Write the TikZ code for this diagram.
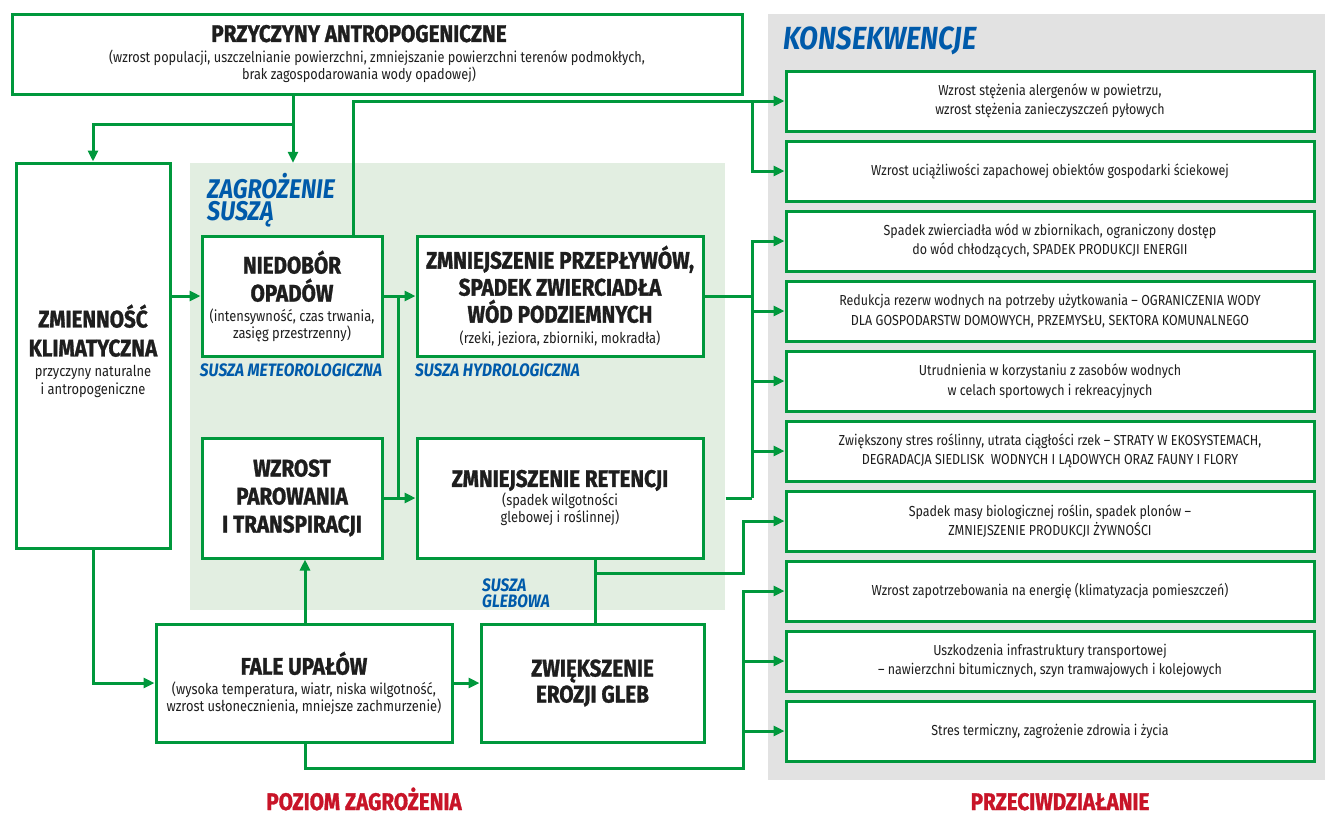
\documentclass[tikz,border=0pt]{standalone}
\usepackage{fontspec}
\setmainfont[FakeStretch=0.86,BoldFeatures={FakeBold=1.2}]{Fira Sans}
\usetikzlibrary{arrows.meta,calc}
\definecolor{grn}{RGB}{0,152,60}
\definecolor{lgrn}{RGB}{226,238,225}
\definecolor{gry}{RGB}{226,226,226}
\definecolor{blu}{RGB}{0,90,170}
\definecolor{rd}{RGB}{200,20,40}
\definecolor{txt}{RGB}{30,30,30}
\lineskiplimit=-50pt
\newcommand\subf{\fontsize{15}{17}\selectfont\lineskiplimit=-50pt}
\newcommand\consf{\fontsize{14.5}{17}\selectfont\lineskiplimit=-50pt}
\newcommand\ttlf{\fontsize{24}{27}\selectfont\bfseries}
\newcommand\padr{\hspace*{36pt}}
\begin{document}
\begin{tikzpicture}[x=1pt,y=-1pt,
  box/.style={draw=grn,line width=3pt,fill=white,inner sep=0pt,align=center,text=txt,font=\subf},
  cbox/.style={box,font=\consf,minimum width=528pt,minimum height=60pt},
  conn/.style={draw=grn,line width=3pt},
  arr/.style={conn,-{Triangle[length=11pt,width=10pt]}},
  lbl/.style={text=blu,inner sep=0pt,align=left},
  foot/.style={text=rd,inner sep=0pt,anchor=base,font=\fontsize{24}{25}\selectfont\bfseries},
]
\useasboundingbox (0,0) rectangle (1325,815);
% background areas
\node[fill=gry,inner sep=0pt,minimum width=557pt,minimum height=766pt] (konsarea) at (1046.5,397) {};
\node[fill=lgrn,inner sep=0pt,minimum width=535pt,minimum height=447pt] (drought) at (457.5,386.5) {};
% coordinates for bends
\coordinate (xA) at (293,0);
\coordinate (yA) at (0,124);
\coordinate (xN) at (353,0);
\coordinate (xV) at (398,0);
\coordinate (xB) at (752,0);
\coordinate (xR) at (595,0);
\coordinate (yR) at (0,573);
\coordinate (xC) at (743,0);
\coordinate (xF) at (305,0);
\coordinate (yF) at (0,768);
% main nodes
\node[box,minimum width=730pt,minimum height=80pt] (top) at (377,54)
  {{\fontsize{24}{24}\selectfont\bfseries PRZYCZYNY ANTROPOGENICZNE}\padr\\[4pt]
   {\fontsize{14.8}{17}\selectfont (wzrost populacji, uszczelnianie powierzchni, zmniejszanie powierzchni terenów podmokłych,}\padr\\
   {\fontsize{14.8}{17}\selectfont brak zagospodarowania wody opadowej)}\padr};
\node[box,minimum width=154pt,minimum height=385pt] (klim) at (93,355.5)
  {{\ttlf ZMIENNOŚĆ}\\[12pt]{\ttlf KLIMATYCZNA}\\[3pt]przyczyny naturalne\\[1pt]i antropogeniczne\\[-5pt]{}};
\node[box,minimum width=180pt,minimum height=120pt] (niedobor) at (292,296)
  {{\ttlf NIEDOBÓR}\\[11pt]{\ttlf OPADÓW}\\[2.5pt](intensywność, czas trwania,\\zasięg przestrzenny)};
\node[box,minimum width=286pt,minimum height=120pt] (przeplywy) at (560,296)
  {{\ttlf ZMNIEJSZENIE PRZEPŁYWÓW,}\\[10pt]{\ttlf SPADEK ZWIERCIADŁA}\\[10pt]{\ttlf WÓD PODZIEMNYCH}\\[3.5pt](rzeki, jeziora, zbiorniki, mokradła)};
\node[box,minimum width=180pt,minimum height=120pt] (wzrost) at (292,498)
  {{\ttlf WZROST}\\[11pt]{\ttlf PAROWANIA}\\[11pt]{\ttlf I TRANSPIRACJI}};
\node[box,minimum width=286pt,minimum height=120pt] (retencja) at (560,498)
  {{\ttlf ZMNIEJSZENIE RETENCJI}\\[2pt](spadek wilgotności\\glebowej i roślinnej)};
\node[box,minimum width=296pt,minimum height=118pt] (fale) at (304,683)
  {{\ttlf FALE UPAŁÓW}\\[2.5pt](wysoka temperatura, wiatr, niska wilgotność,\\wzrost usłonecznienia, mniejsze zachmurzenie)};
\node[box,minimum width=223pt,minimum height=118pt] (erozja) at (592.5,683)
  {{\ttlf ZWIĘKSZENIE}\\[9pt]{\ttlf EROZJI GLEB}};
% consequence boxes
\node[cbox] (c1) at (1050,101) {Wzrost stężenia alergenów w powietrzu,\\[2.5pt]wzrost stężenia zanieczyszczeń pyłowych};
\node[cbox] (c2) at (1050,171) {Wzrost uciążliwości zapachowej obiektów gospodarki ściekowej};
\node[cbox] (c3) at (1050,241) {Spadek zwierciadła wód w zbiornikach, ograniczony dostęp\\[2.5pt]do wód chłodzących, SPADEK PRODUKCJI ENERGII};
\node[cbox] (c4) at (1050,311) {Redukcja rezerw wodnych na potrzeby użytkowania – OGRANICZENIA WODY\\[2.5pt]DLA GOSPODARSTW DOMOWYCH, PRZEMYSŁU, SEKTORA KOMUNALNEGO};
\node[cbox] (c5) at (1050,381) {Utrudnienia w korzystaniu z zasobów wodnych\\[2.5pt]w celach sportowych i rekreacyjnych};
\node[cbox] (c6) at (1050,451) {Zwiększony stres roślinny, utrata ciągłości rzek – STRATY W EKOSYSTEMACH,\\[2.5pt]DEGRADACJA SIEDLISK\ \ WODNYCH I LĄDOWYCH ORAZ FAUNY I FLORY};
\node[cbox] (c7) at (1050,521) {Spadek masy biologicznej roślin, spadek plonów –\\[2.5pt]ZMNIEJSZENIE PRODUKCJI ŻYWNOŚCI};
\node[cbox] (c8) at (1050,591) {Wzrost zapotrzebowania na energię (klimatyzacja pomieszczeń)};
\node[cbox] (c9) at (1050,661) {Uszkodzenia infrastruktury transportowej\\[2.5pt]– nawierzchni bitumicznych, szyn tramwajowych i kolejowych};
\node[cbox] (c10) at (1050,731) {Stres termiczny, zagrożenie zdrowia i życia};
% labels
\node[lbl,anchor=north west,font=\fontsize{27}{22.5}\selectfont\bfseries\itshape] (zag) at (207,173) {ZAGROŻENIE\\SUSZĄ};
\node[lbl,font=\fontsize{18}{16}\selectfont\bfseries\itshape] (smet) at (291,370) {SUSZA METEOROLOGICZNA};
\node[lbl,anchor=west,font=\fontsize{18}{16}\selectfont\bfseries\itshape] (shyd) at (415,370) {SUSZA HYDROLOGICZNA};
\node[lbl,anchor=west,font=\fontsize{18}{16}\selectfont\bfseries\itshape] (sgle) at (482,593) {SUSZA\\GLEBOWA};
\node[lbl,anchor=west,font=\fontsize{32}{28}\selectfont\bfseries\itshape] (kons) at (783,41) {KONSEKWENCJE};
\node[foot] (poziom) at (364,810) {POZIOM ZAGROŻENIA};
\node[foot] (przec) at (1060,810) {PRZECIWDZIAŁANIE};
% connectors
\draw[arr] (top.south -| xA) -- (xA |- yA) -| (klim.north);
\draw[arr] (top.south -| xA) -- (drought.north -| xA);
\draw[arr] (klim.east |- niedobor.west) -- (niedobor.west);
\draw[arr] (niedobor.north -| xN) |- (c1.west);
\draw[arr] (xB |- c1.west) |- (c2.west);
\draw[arr] (niedobor.east) -- (przeplywy.west);
\draw[arr] (wzrost.east) -- (retencja.west);
\draw[conn] (xV |- niedobor.east) -- (xV |- wzrost.east);
\draw[conn] (przeplywy.east) -- (xB |- przeplywy.east);
\draw[conn,shorten <=21pt] (retencja.east) -- (xB |- retencja.east);
\draw[arr] (xB |- retencja.east) |- (c3.west);
\draw[arr] (xB |- c4.west) -- (c4.west);
\draw[arr] (xB |- c5.west) -- (c5.west);
\draw[arr] (xB |- c6.west) -- (c6.west);
\draw[conn] (retencja.south -| xR) -- (erozja.north -| xR);
\draw[arr] (xR |- yR) -| (xC |- c7.west) -- (c7.west);
\draw[arr] (fale.north -| xF) -- (wzrost.south -| xF);
\draw[arr] (fale.south -| xF) |- (xC |- yF) |- (c8.west);
\draw[arr] (xC |- c9.west) -- (c9.west);
\draw[arr] (xC |- c10.west) -- (c10.west);
\draw[arr] (klim.south) |- (fale.west);
\draw[arr] (fale.east) -- (erozja.west);
\end{tikzpicture}
\end{document}
